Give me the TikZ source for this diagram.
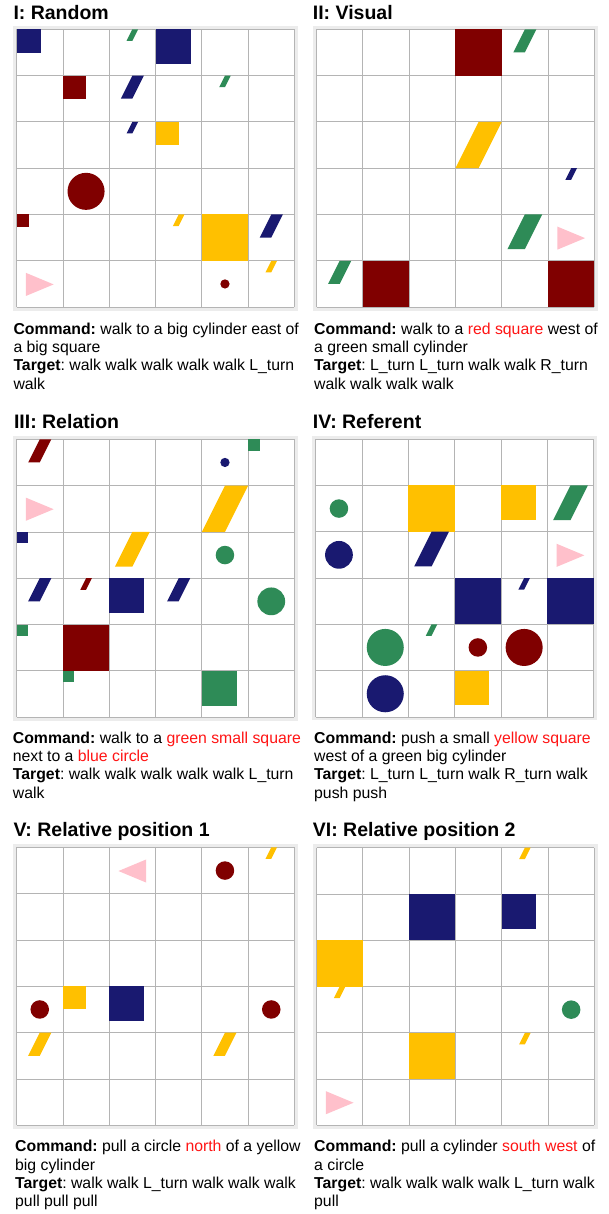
\documentclass[tikz,border=0pt]{standalone}
\usepackage{fontspec}
\setmainfont{Liberation Sans}
\frenchspacing
\definecolor{cnavy}{RGB}{25,25,112}
\definecolor{cmaroon}{RGB}{128,0,0}
\definecolor{cyellow}{RGB}{255,192,0}
\definecolor{cgreen}{RGB}{46,139,87}
\definecolor{cpink}{RGB}{255,192,203}
\definecolor{gridgray}{RGB}{180,180,180}
\definecolor{framegray}{RGB}{236,236,236}
\definecolor{cred}{RGB}{255,20,20}
\tikzset{
  gridline/.style={draw=gridgray, line width=0.8pt},
  framebox/.style={draw=framegray, line width=3.4pt},
  paneltitle/.style={anchor=base west, inner sep=0pt, font=\fontsize{19.5}{22}\selectfont\bfseries},
  captionline/.style={anchor=base west, inner sep=0pt, font=\fontsize{15.8}{18.3}\selectfont\frenchspacing},
  cell/.style={shift={(#1)}, x=46.3pt, y=-46.3pt},
}
\newcommand\panelgrid{%
  \draw[framebox] (-0.037,-0.037) rectangle (6.037,6.037);
  \foreach \i in {0,...,6} {\draw[gridline] (\i,0) -- (\i,6); \draw[gridline] (0,\i) -- (6,\i);}
}
\newcommand\sqr[4]{\fill[#4] (#1,#2) rectangle ++(#3,#3);}
\newcommand\cyl[4]{\fill[#4] (#1,#2+#3) -- ++(#3/2,0) -- (#1+#3,#2) -- ++(-#3/2,0) -- cycle;}
\newcommand\crc[4]{\fill[#4] (#1,#2) circle[radius=#3];}
\newcommand\trir[2]{\fill[cpink] (#1+0.2,#2+0.26) -- (#1+0.8,#2+0.51) -- (#1+0.2,#2+0.76) -- cycle;}
\newcommand\tril[2]{\fill[cpink] (#1+0.8,#2+0.26) -- (#1+0.2,#2+0.51) -- (#1+0.8,#2+0.76) -- cycle;}
\newcommand\cmd{\textbf{Command:}}
\newcommand\tgt{\textbf{Target}:}
\begin{document}
\begin{tikzpicture}[x=1pt,y=-1pt]
\useasboundingbox (0,0) rectangle (609,1214);
\fill[white] (0,0) rectangle (609,1214);

% ---------- Panel I
\begin{scope}[cell={16.6pt,-29.3pt}]
\panelgrid
\sqr{0}{0}{0.52}{cnavy}
\cyl{2.375}{0}{0.25}{cgreen}
\sqr{3}{0}{0.76}{cnavy}
\sqr{1}{1}{0.5}{cmaroon}
\cyl{2.25}{1}{0.5}{cnavy}
\cyl{4.375}{1}{0.25}{cgreen}
\cyl{2.375}{2}{0.25}{cnavy}
\sqr{3}{2}{0.5}{cyellow}
\crc{1.5}{3.5}{0.4}{cmaroon}
\sqr{0}{4}{0.26}{cmaroon}
\cyl{3.375}{4}{0.25}{cyellow}
\sqr{4}{4}{1}{cyellow}
\cyl{5.25}{4}{0.5}{cnavy}
\cyl{5.375}{5}{0.25}{cyellow}
\trir{0}{5}
\crc{4.5}{5.5}{0.1}{cmaroon}
\end{scope}

% ---------- Panel II
\begin{scope}[cell={316.5pt,-29.3pt}]
\panelgrid
\sqr{3}{0}{1}{cmaroon}
\cyl{4.25}{0}{0.5}{cgreen}
\cyl{3}{2}{1}{cyellow}
\cyl{5.375}{3}{0.25}{cnavy}
\cyl{4.125}{4}{0.75}{cgreen}
\trir{5}{4}
\cyl{0.25}{5}{0.5}{cgreen}
\sqr{1}{5}{1}{cmaroon}
\sqr{5}{5}{1}{cmaroon}
\end{scope}

% ---------- Panel III
\begin{scope}[cell={16.6pt,-439.3pt}]
\panelgrid
\cyl{0.25}{0}{0.5}{cmaroon}
\sqr{5}{0}{0.25}{cgreen}
\crc{4.5}{0.5}{0.1}{cnavy}
\trir{0}{1}
\cyl{4}{1}{1}{cyellow}
\sqr{0}{2}{0.25}{cnavy}
\cyl{2.125}{2}{0.75}{cyellow}
\crc{4.5}{2.5}{0.2}{cgreen}
\cyl{0.25}{3}{0.5}{cnavy}
\cyl{1.375}{3}{0.25}{cmaroon}
\sqr{2}{3}{0.75}{cnavy}
\cyl{3.25}{3}{0.5}{cnavy}
\crc{5.5}{3.5}{0.3}{cgreen}
\sqr{0}{4}{0.25}{cgreen}
\sqr{1}{4}{1}{cmaroon}
\sqr{1}{5}{0.25}{cgreen}
\sqr{4}{5}{0.75}{cgreen}
\end{scope}

% ---------- Panel IV
\begin{scope}[cell={315.8pt,-439.1pt}]
\panelgrid
\crc{0.5}{1.5}{0.2}{cgreen}
\sqr{2}{1}{1}{cyellow}
\sqr{4}{1}{0.75}{cyellow}
\cyl{5.125}{1}{0.75}{cgreen}
\crc{0.5}{2.5}{0.3}{cnavy}
\cyl{2.125}{2}{0.75}{cnavy}
\trir{5}{2}
\sqr{3}{3}{1}{cnavy}
\cyl{4.375}{3}{0.25}{cnavy}
\sqr{5}{3}{1}{cnavy}
\crc{1.5}{4.5}{0.4}{cgreen}
\cyl{2.375}{4}{0.25}{cgreen}
\crc{3.5}{4.5}{0.2}{cmaroon}
\crc{4.5}{4.5}{0.4}{cmaroon}
\crc{1.5}{5.5}{0.4}{cnavy}
\sqr{3}{5}{0.75}{cyellow}
\end{scope}

% ---------- Panel V
\begin{scope}[cell={16.6pt,-847.4pt}]
\panelgrid
\tril{2}{0}
\crc{4.5}{0.5}{0.2}{cmaroon}
\cyl{5.375}{0}{0.25}{cyellow}
\crc{0.5}{3.5}{0.2}{cmaroon}
\sqr{1}{3}{0.5}{cyellow}
\sqr{2}{3}{0.75}{cnavy}
\crc{5.5}{3.5}{0.2}{cmaroon}
\cyl{0.25}{4}{0.5}{cyellow}
\cyl{4.25}{4}{0.5}{cyellow}
\end{scope}

% ---------- Panel VI
\begin{scope}[cell={316.5pt,-847.6pt}]
\panelgrid
\cyl{4.375}{0}{0.25}{cyellow}
\sqr{2}{1}{1}{cnavy}
\sqr{4}{1}{0.75}{cnavy}
\sqr{0}{2}{1}{cyellow}
\cyl{0.375}{3}{0.25}{cyellow}
\crc{5.5}{3.5}{0.2}{cgreen}
\sqr{2}{4}{1}{cyellow}
\cyl{4.375}{4}{0.25}{cyellow}
\trir{0}{5}
\end{scope}

% ---------- Titles
\node[paneltitle] (t1) at (13.3,20) {I: Random};
\node[paneltitle] (t2) at (312.7,20) {II: Visual};
\node[paneltitle] (t3) at (13.8,428.5) {III: Relation};
\node[paneltitle] (t4) at (312.7,428.5) {IV: Referent};
\node[paneltitle] (t5) at (13.3,836.8) {V: Relative position 1};
\node[paneltitle] (t6) at (312.7,836.8) {VI: Relative position 2};

% ---------- Captions
\node[captionline] (c1a) at (13.3,334.3) {\cmd{} walk to a big cylinder east of};
\node[captionline] (c1b) at (13.3,352.6) {a big square};
\node[captionline] (c1c) at (13.3,370.9) {\tgt{} walk walk walk walk walk L\_turn};
\node[captionline] (c1d) at (13.3,389.2) {walk};

\node[captionline] (c2a) at (314,334.3) {\cmd{} walk to a \textcolor{cred}{red square} west of};
\node[captionline] (c2b) at (314,352.6) {a green small cylinder};
\node[captionline] (c2c) at (314,370.9) {\tgt{} L\_turn L\_turn walk walk R\_turn};
\node[captionline] (c2d) at (314,389.2) {walk walk walk walk};

\node[captionline] (c3a) at (12.7,743.3) {\cmd{} walk to a \textcolor{cred}{green small square}};
\node[captionline] (c3b) at (12.7,761.6) {next to a \textcolor{cred}{blue circle}};
\node[captionline] (c3c) at (12.7,779.9) {\tgt{} walk walk walk walk walk L\_turn};
\node[captionline] (c3d) at (12.7,798.2) {walk};

\node[captionline] (c4a) at (314,743.3) {\cmd{} push a small \textcolor{cred}{yellow square}};
\node[captionline] (c4b) at (314,761.6) {west of a green big cylinder};
\node[captionline] (c4c) at (314,779.9) {\tgt{} L\_turn L\_turn walk R\_turn walk};
\node[captionline] (c4d) at (314,798.2) {push push};

\node[captionline] (c5a) at (15,1151.7) {\cmd{} pull a circle \textcolor{cred}{north} of a yellow};
\node[captionline] (c5b) at (15,1170) {big cylinder};
\node[captionline] (c5c) at (15,1188.3) {\tgt{} walk walk L\_turn walk walk walk};
\node[captionline] (c5d) at (15,1206.6) {pull pull pull};

\node[captionline] (c6a) at (314,1151.7) {\cmd{} pull a cylinder \textcolor{cred}{south west} of};
\node[captionline] (c6b) at (314,1170) {a circle};
\node[captionline] (c6c) at (314,1188.3) {\tgt{} walk walk walk walk L\_turn walk};
\node[captionline] (c6d) at (314,1206.6) {pull};
\end{tikzpicture}
\end{document}
